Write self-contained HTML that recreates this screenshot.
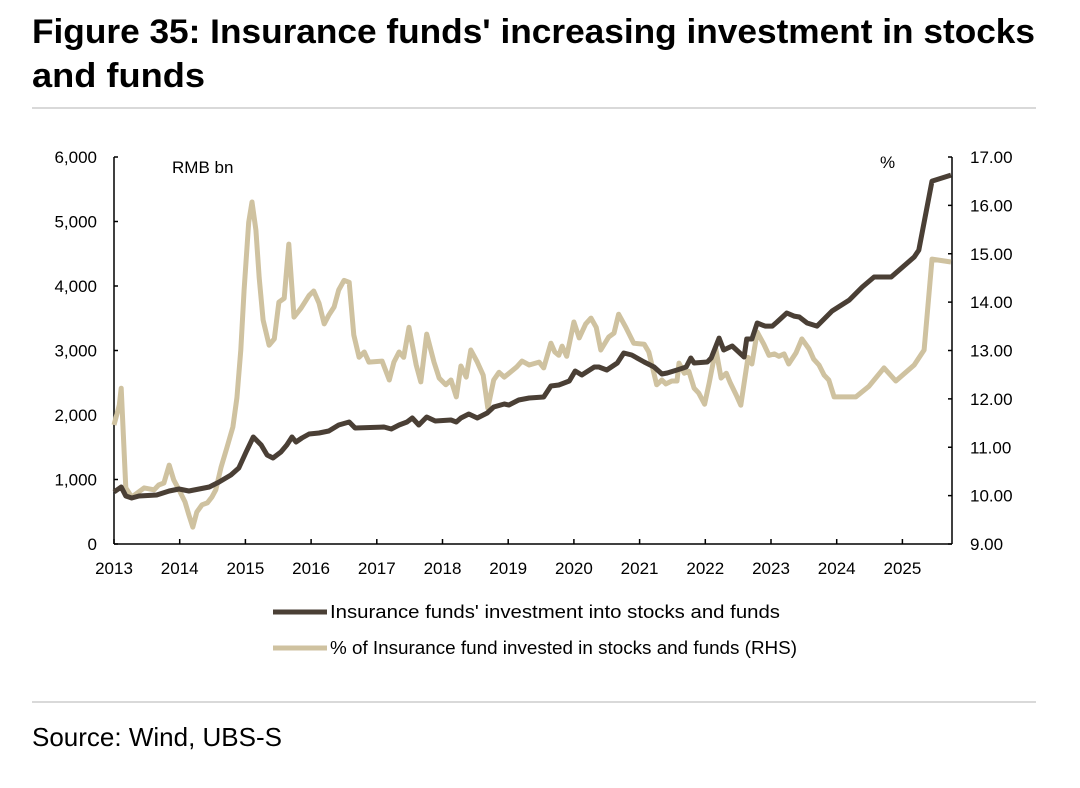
<!DOCTYPE html>
<html><head><meta charset="utf-8"><style>
html,body{margin:0;padding:0;background:#fff;}
svg{display:block;font-family:"Liberation Sans",sans-serif;}
</style></head><body>
<svg id="chart" width="1080" height="788" viewBox="0 0 1080 788">
<text x="32" y="43" font-size="34" font-weight="bold" fill="#000" textLength="1003" lengthAdjust="spacingAndGlyphs">Figure 35: Insurance funds' increasing investment in stocks</text>
<text x="32" y="87" font-size="34" font-weight="bold" fill="#000" textLength="173" lengthAdjust="spacingAndGlyphs">and funds</text>
<line x1="32" y1="108" x2="1036" y2="108" stroke="#d9d9d9" stroke-width="2"/>
<g id="axes"></g>
<g id="series"></g>
<text x="172" y="173" font-size="17" fill="#000">RMB bn</text>
<text x="880" y="168" font-size="17" fill="#000">%</text>
<line x1="273" y1="612" x2="327" y2="612" stroke="#4a3f35" stroke-width="5"/>
<text x="330" y="618" font-size="18" fill="#000" textLength="450" lengthAdjust="spacingAndGlyphs">Insurance funds' investment into stocks and funds</text>
<line x1="273" y1="648" x2="327" y2="648" stroke="#cfc2a0" stroke-width="5"/>
<text x="330" y="654" font-size="18" fill="#000" textLength="467" lengthAdjust="spacingAndGlyphs">% of Insurance fund invested in stocks and funds (RHS)</text>
<line x1="32" y1="702" x2="1036" y2="702" stroke="#d9d9d9" stroke-width="2"/>
<text x="32" y="746" font-size="26" fill="#000">Source: Wind, UBS-S</text>
</svg>
<script>
const yearTicks=[2013,2014,2015,2016,2017,2018,2019,2020,2021,2022,2023,2024,2025];
const leftTicks=[0,1000,2000,3000,4000,5000,6000];
const leftTickLabels=["0","1,000","2,000","3,000","4,000","5,000","6,000"];
const rightTicks=[9,10,11,12,13,14,15,16,17];
const rightTickLabels=["9.00","10.00","11.00","12.00","13.00","14.00","15.00","16.00","17.00"];
const invDates=[2013.00,2013.11,2013.18,2013.27,2013.38,2013.65,2013.84,2013.99,2014.14,2014.45,2014.60,2014.78,2014.90,2015.01,2015.12,2015.24,2015.33,2015.42,2015.54,2015.63,2015.71,2015.77,2015.86,2015.97,2016.12,2016.27,2016.42,2016.58,2016.67,2017.11,2017.22,2017.34,2017.46,2017.54,2017.64,2017.76,2017.89,2018.13,2018.21,2018.28,2018.40,2018.53,2018.68,2018.78,2018.94,2019.01,2019.16,2019.32,2019.54,2019.65,2019.77,2019.93,2020.02,2020.12,2020.31,2020.38,2020.50,2020.66,2020.76,2020.88,2021.07,2021.22,2021.34,2021.42,2021.57,2021.71,2021.78,2021.83,2022.03,2022.09,2022.21,2022.28,2022.41,2022.59,2022.63,2022.71,2022.79,2022.91,2023.02,2023.09,2023.24,2023.35,2023.43,2023.55,2023.70,2023.93,2024.19,2024.39,2024.57,2024.83,2025.18,2025.25,2025.45,2025.74];
const invValues=[806,884,744,713,744,760,822,853,822,884,961,1070,1178,1426,1659,1535,1380,1333,1426,1535,1659,1581,1643,1705,1721,1752,1845,1891,1798,1814,1783,1845,1891,1953,1845,1969,1907,1922,1891,1953,2015,1953,2031,2124,2170,2155,2232,2263,2279,2449,2465,2527,2682,2620,2744,2744,2697,2806,2961,2930,2821,2744,2635,2651,2697,2744,2883,2806,2821,2883,3193,3007,3069,2899,3178,3178,3426,3379,3379,3441,3581,3534,3519,3426,3379,3612,3782,3984,4139,4139,4449,4557,5627,5720];
const pctDates=[2013.00,2013.08,2013.11,2013.18,2013.27,2013.46,2013.61,2013.68,2013.76,2013.84,2013.91,2013.99,2014.08,2014.14,2014.20,2014.26,2014.34,2014.42,2014.49,2014.55,2014.63,2014.72,2014.81,2014.87,2014.93,2014.98,2015.05,2015.10,2015.16,2015.21,2015.27,2015.36,2015.44,2015.51,2015.59,2015.66,2015.74,2015.85,2015.97,2016.04,2016.12,2016.20,2016.27,2016.35,2016.42,2016.50,2016.58,2016.65,2016.73,2016.81,2016.88,2017.08,2017.19,2017.26,2017.34,2017.41,2017.49,2017.60,2017.67,2017.76,2017.87,2017.95,2018.05,2018.13,2018.21,2018.28,2018.36,2018.43,2018.53,2018.62,2018.69,2018.78,2018.86,2018.94,2019.03,2019.13,2019.21,2019.32,2019.47,2019.54,2019.65,2019.71,2019.77,2019.82,2019.89,2020.00,2020.08,2020.18,2020.26,2020.34,2020.41,2020.53,2020.61,2020.68,2020.79,2020.91,2021.07,2021.14,2021.26,2021.34,2021.40,2021.49,2021.57,2021.60,2021.68,2021.75,2021.83,2021.90,2021.99,2022.06,2022.16,2022.24,2022.32,2022.38,2022.47,2022.54,2022.65,2022.71,2022.79,2022.89,2022.97,2023.05,2023.12,2023.20,2023.27,2023.38,2023.47,2023.58,2023.65,2023.73,2023.81,2023.88,2023.96,2024.29,2024.49,2024.72,2024.90,2025.18,2025.33,2025.45,2025.74];
const pctValues=[11.46,11.87,12.22,10.16,9.97,10.16,10.12,10.22,10.26,10.63,10.32,10.12,9.87,9.60,9.35,9.66,9.81,9.85,9.97,10.12,10.59,11.00,11.42,12.02,13.01,14.25,15.65,16.07,15.49,14.50,13.63,13.11,13.24,14.00,14.08,15.20,13.69,13.88,14.14,14.23,13.98,13.55,13.73,13.90,14.25,14.45,14.41,13.32,12.86,12.97,12.76,12.78,12.39,12.76,12.97,12.86,13.48,12.70,12.35,13.34,12.76,12.43,12.29,12.39,12.04,12.68,12.45,13.01,12.76,12.49,11.81,12.39,12.55,12.45,12.55,12.66,12.78,12.70,12.76,12.64,13.15,12.97,12.90,13.09,12.88,13.59,13.26,13.55,13.67,13.48,13.01,13.28,13.36,13.75,13.48,13.15,13.13,12.97,12.29,12.39,12.31,12.37,12.37,12.74,12.53,12.57,12.22,12.12,11.89,12.33,13.03,12.43,12.53,12.33,12.08,11.87,12.86,12.72,13.38,13.13,12.90,12.93,12.88,12.93,12.72,12.95,13.24,13.03,12.82,12.70,12.49,12.39,12.04,12.04,12.26,12.64,12.37,12.70,13.01,14.89,14.83];

const NS="http://www.w3.org/2000/svg";
const X0=114,X1=952,YB=544,YT=157;
const xS=d=>X0+(d-2013)*65.7;
const yL=v=>YB-(v/6000)*(YB-YT);
const yR=v=>YB-((v-9)/8)*(YB-YT);
function mk(tag,attrs,parent){const e=document.createElementNS(NS,tag);for(const k in attrs)e.setAttribute(k,attrs[k]);parent.appendChild(e);return e;}
const ax=document.getElementById('axes'), se=document.getElementById('series');
let e;
e=mk('line',{x1:X0,y1:YT,x2:X0,y2:YB,stroke:'#000','stroke-width':1.5},ax);


e=mk('line',{x1:X1,y1:YT,x2:X1,y2:YB,stroke:'#000','stroke-width':1.5},ax);


e=mk('line',{x1:X0,y1:YB,x2:X1,y2:YB,stroke:'#000','stroke-width':1.5},ax);


leftTicks.forEach((v,i)=>{const y=yL(v);
 e=mk('line',{x1:X0,y1:y,x2:X0+4,y2:y,stroke:'#000','stroke-width':1.5},ax);
 
 
 e=mk('text',{x:97,y:y+6,'font-size':17,'text-anchor':'end',fill:'#000'},ax);e.textContent=leftTickLabels[i];
 
 
});
rightTicks.forEach((v,i)=>{const y=yR(v);
 e=mk('line',{x1:X1-4,y1:y,x2:X1,y2:y,stroke:'#000','stroke-width':1.5},ax);
 
 
 e=mk('text',{x:970,y:y+6,'font-size':17,fill:'#000'},ax);e.textContent=rightTickLabels[i];
 
 
});
yearTicks.forEach(yr=>{const x=xS(yr);
 e=mk('line',{x1:x,y1:YB-5,x2:x,y2:YB,stroke:'#000','stroke-width':1.5},ax);
 
 
 e=mk('text',{x:x,y:574,'font-size':17,'text-anchor':'middle',fill:'#000'},ax);e.textContent=String(yr);
 
 
});
const pPct=pctDates.map((d,i)=>xS(d).toFixed(1)+','+yR(pctValues[i]).toFixed(1)).join(' ');
e=mk('polyline',{points:pPct,fill:'none',stroke:'#cfc2a0','stroke-width':5,'stroke-linejoin':'round'},se);


const pInv=invDates.map((d,i)=>xS(d).toFixed(1)+','+yL(invValues[i]).toFixed(1)).join(' ');
e=mk('polyline',{points:pInv,fill:'none',stroke:'#4a3f35','stroke-width':5,'stroke-linejoin':'round'},se);


</script>
</body></html>
